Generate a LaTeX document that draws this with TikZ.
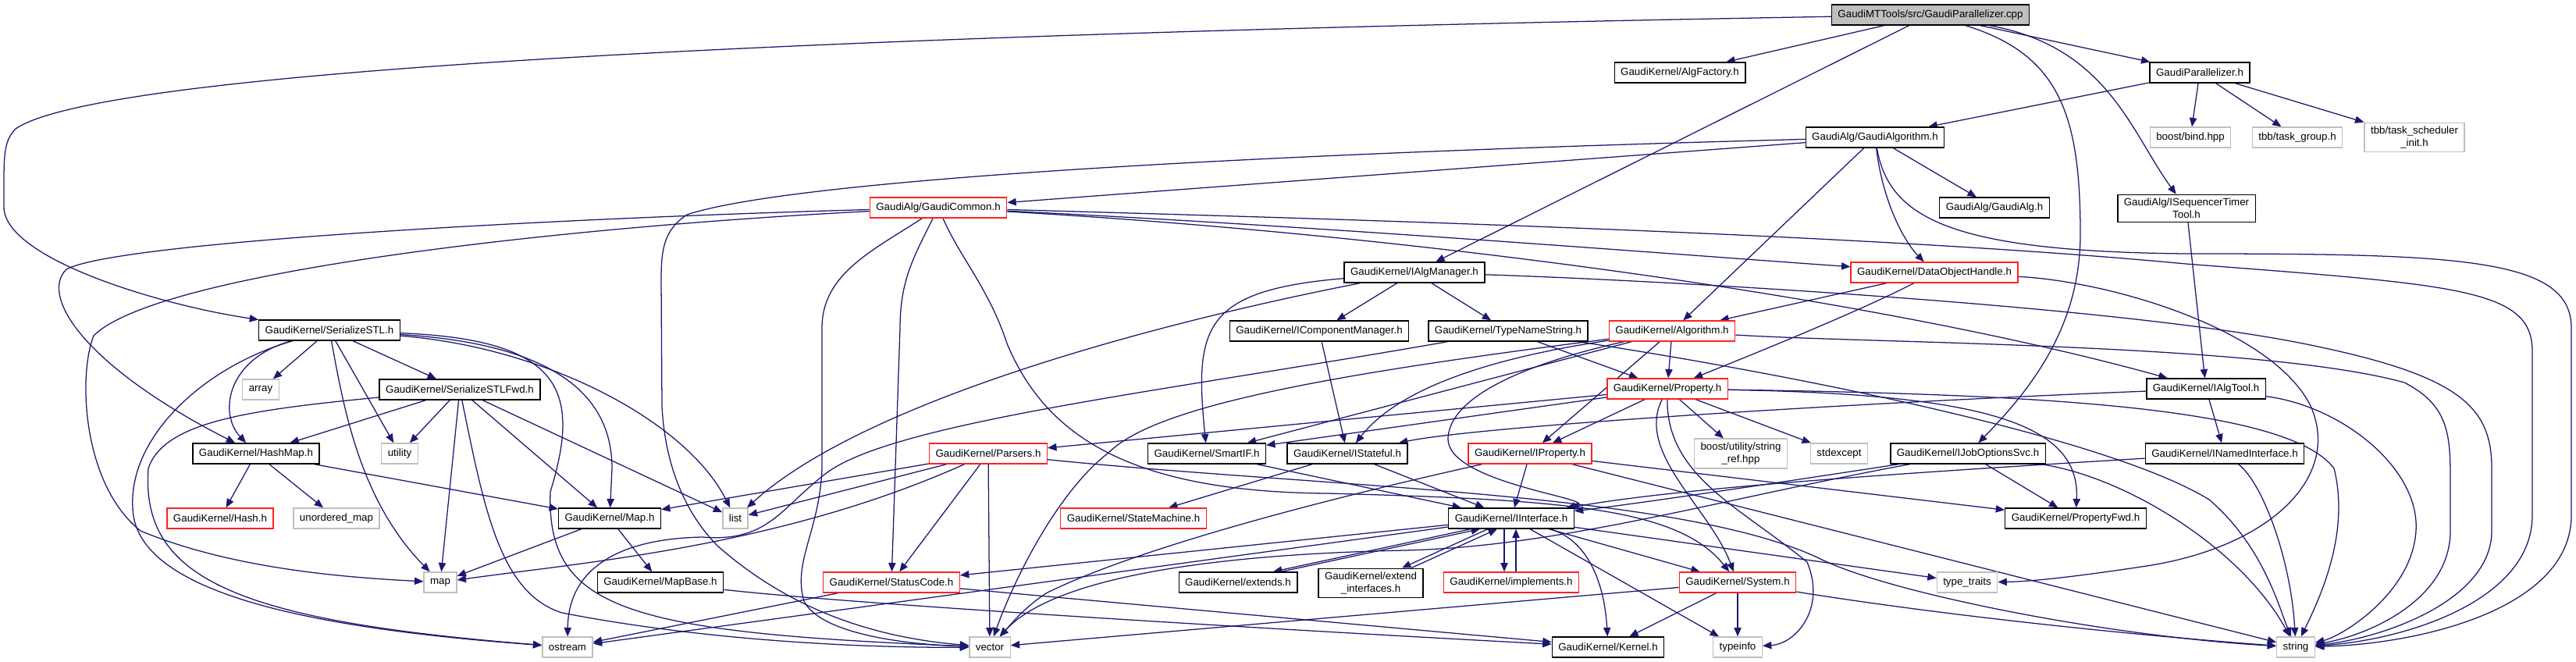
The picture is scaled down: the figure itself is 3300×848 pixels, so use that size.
\documentclass[tikz,border=0pt]{standalone}
\usepackage{fontspec}
\setmainfont{Liberation Sans}
\usepackage{tikz}
\usetikzlibrary{arrows.meta,calc}
\definecolor{dxEdge}{HTML}{191970}
\definecolor{dxGrey}{HTML}{BFBFBF}
\definecolor{dxRed}{HTML}{FF2020}
\pgfdeclarelayer{back}
\pgfdeclarelayer{edges}
\pgfsetlayers{back,edges,main}
\tikzset{
  hdr/.style={draw=black, fill=white, line width=1pt, inner xsep=6pt, inner ysep=3.5pt,
    minimum height=19.5pt, align=center, font=\fontsize{10}{12}\selectfont},
  hdrcut/.style={hdr, draw=dxRed},
  hdrsys/.style={hdr, draw=dxGrey},
  hdrsrc/.style={hdr, fill=dxGrey},
  dep/.style={draw=dxEdge, line width=0.95pt, -{Triangle[length=8.5pt,width=7pt]}}
}
\begin{document}
\begin{tikzpicture}[x=0.75pt,y=-0.75pt]
  \begin{pgfonlayer}{back}
    \fill[white] (0,0) rectangle (3300,848);
  \end{pgfonlayer}
  \useasboundingbox (0,0) rectangle (3300,848);

  \node[hdrsrc] (root) at (2473,19) {GaudiMTTools/src/GaudiParallelizer.cpp};
  \node[hdr] (algfac) at (2152,93) {GaudiKernel/AlgFactory.h};
  \node[hdr] (gpar) at (2818,93) {GaudiParallelizer.h};
  \node[hdr] (galgo) at (2402,176) {GaudiAlg/GaudiAlgorithm.h};
  \node[hdrsys] (boostbind) at (2806,176) {boost/bind.hpp};
  \node[hdrsys] (tbbtg) at (2943,176) {tbb/task\_group.h};
  \node[hdrsys] (tbbtsi) at (3093,176) {tbb/task\_scheduler\\\_init.h};
  \node[hdrcut] (gcommon) at (1202,266) {GaudiAlg/GaudiCommon.h};
  \node[hdr] (galg) at (2555,266) {GaudiAlg/GaudiAlg.h};
  \node[hdr] (iseqtt) at (2801,267) {GaudiAlg/ISequencerTimer\\Tool.h};
  \node[hdr] (ialgmgr) at (1812,349) {GaudiKernel/IAlgManager.h};
  \node[hdrcut] (dohandle) at (2478,349) {GaudiKernel/DataObjectHandle.h};
  \node[hdr] (serstl) at (422,423) {GaudiKernel/SerializeSTL.h};
  \node[hdr] (icompmgr) at (1690,424) {GaudiKernel/IComponentManager.h};
  \node[hdr] (typename) at (1932,424) {GaudiKernel/TypeNameString.h};
  \node[hdrcut] (algorithm) at (2142,424) {GaudiKernel/Algorithm.h};
  \node[hdrsys] (array) at (334,499) {array};
  \node[hdr] (serstlfwd) at (589,499) {GaudiKernel/SerializeSTLFwd.h};
  \node[hdrcut] (property) at (2136,498) {GaudiKernel/Property.h};
  \node[hdr] (ialgtool) at (2826,498) {GaudiKernel/IAlgTool.h};
  \node[hdr] (hashmap) at (328,581) {GaudiKernel/HashMap.h};
  \node[hdrsys] (utility) at (512,581) {utility};
  \node[hdrcut] (parsers) at (1266,581) {GaudiKernel/Parsers.h};
  \node[hdr] (smartif) at (1546,581) {GaudiKernel/SmartIF.h};
  \node[hdr] (istateful) at (1726,581) {GaudiKernel/IStateful.h};
  \node[hdrcut] (iproperty) at (1960,581) {GaudiKernel/IProperty.h};
  \node[hdrsys] (stringref) at (2230,581) {boost/utility/string\\\_ref.hpp};
  \node[hdrsys] (stdexcept) at (2356,581) {stdexcept};
  \node[hdr] (ijobopt) at (2521,581) {GaudiKernel/IJobOptionsSvc.h};
  \node[hdr] (inamed) at (2850,581) {GaudiKernel/INamedInterface.h};
  \node[hdrcut] (hash) at (282,664) {GaudiKernel/Hash.h};
  \node[hdrsys] (umap) at (431,664) {unordered\_map};
  \node[hdr] (mapkh) at (781,664) {GaudiKernel/Map.h};
  \node[hdrsys] (list) at (942,664) {list};
  \node[hdrcut] (statem) at (1452,664) {GaudiKernel/StateMachine.h};
  \node[hdr] (iinterface) at (1936,664) {GaudiKernel/IInterface.h};
  \node[hdr] (propfwd) at (2659,664) {GaudiKernel/PropertyFwd.h};
  \node[hdrsys] (map) at (564,746) {map};
  \node[hdr] (mapbase) at (846,746) {GaudiKernel/MapBase.h};
  \node[hdrcut] (statuscode) at (1142,746) {GaudiKernel/StatusCode.h};
  \node[hdr] (extends) at (1586,746) {GaudiKernel/extends.h};
  \node[hdr] (extif) at (1756,747) {GaudiKernel/extend\\\_interfaces.h};
  \node[hdrcut] (implements) at (1936,746) {GaudiKernel/implements.h};
  \node[hdrcut] (system) at (2226,746) {GaudiKernel/System.h};
  \node[hdrsys] (typetraits) at (2520,746) {type\_traits};
  \node[hdrsys] (ostream) at (727,829) {ostream};
  \node[hdrsys] (vector) at (1268,829) {vector};
  \node[hdr] (kernel) at (2060,829) {GaudiKernel/Kernel.h};
  \node[hdrsys] (typeinfo) at (2226,829) {typeinfo};
  \node[hdrsys] (string) at (2941,829) {string};

  \begin{pgfonlayer}{edges}
  \draw[dep] (root) .. controls (1400,38) and (150,75) .. (20,165) .. controls (5,180) and (5,200) .. (5,240) -- (5,265) .. controls (5,330) and (200,390) .. (serstl);
  \draw[dep] (root) -- (algfac);
  \draw[dep] (root) -- (ialgmgr);
  \draw[dep] (root) -- (gpar);
  \draw[dep] (root) .. controls (2700,60) and (2730,170) .. (iseqtt);
  \draw[dep] (root) .. controls (2640,70) and (2665,150) .. (2665,300) .. controls (2665,420) and (2600,500) .. (ijobopt);
  \draw[dep] (gpar) -- (galgo);
  \draw[dep] (gpar) -- (boostbind);
  \draw[dep] (gpar) -- (tbbtg);
  \draw[dep] (gpar) -- (tbbtsi);
  \draw[dep] (iseqtt) -- (ialgtool);
  \draw[dep] (galgo) -- (gcommon);
  \draw[dep] (galgo) .. controls (1500,200) and (1000,235) .. (880,275) .. controls (850,295) and (847,320) .. (847,360) -- (848,520) .. controls (852,600) and (880,660) .. (920,700) .. controls (1000,770) and (1100,815) .. (vector);
  \draw[dep] (galgo) -- (algorithm);
  \draw[dep] (galgo) .. controls (2412,260) and (2440,310) .. (dohandle);
  \draw[dep] (galgo) -- (galg);
  \draw[dep] (galgo) .. controls (2420,280) and (2500,322) .. (2800,325) .. controls (3150,325) and (3294,330) .. (3294,420) -- (3294,660) .. controls (3294,780) and (3100,825) .. (string);
  \draw[dep] (gcommon) .. controls (700,280) and (150,310) .. (85,345) .. controls (50,380) and (110,470) .. (hashmap);
  \draw[dep] (gcommon) .. controls (700,292) and (200,350) .. (120,430) .. controls (100,480) and (105,620) .. (180,680) .. controls (300,730) and (450,740) .. (map);
  \draw[dep] (gcommon) .. controls (1120,320) and (1053,350) .. (1053,420) -- (1053,600) .. controls (1050,680) and (1015,720) .. (1030,770) .. controls (1050,810) and (1150,825) .. (vector);
  \draw[dep] (gcommon) .. controls (1170,330) and (1153,360) .. (1153,420) -- (statuscode);
  \draw[dep] (gcommon) .. controls (1230,330) and (1267,370) .. (1290,440) .. controls (1340,560) and (1450,630) .. (1700,632) .. controls (2000,640) and (2150,650) .. (system);
  \draw[dep] (gcommon) .. controls (1700,290) and (2200,330) .. (dohandle);
  \draw[dep] (gcommon) .. controls (1800,300) and (2400,380) .. (ialgtool);
  \draw[dep] (gcommon) .. controls (1700,280) and (2400,300) .. (2800,338) .. controls (3150,365) and (3244,370) .. (3244,450) -- (3244,660) .. controls (3244,770) and (3080,820) .. (string);
  \draw[dep] (ialgmgr) -- (icompmgr);
  \draw[dep] (ialgmgr) -- (typename);
  \draw[dep] (ialgmgr) .. controls (1540,372) and (1530,420) .. (smartif);
  \draw[dep] (ialgmgr) .. controls (1450,420) and (1100,520) .. (list);
  \draw[dep] (ialgmgr) .. controls (2100,358) and (2700,390) .. (2950,440) .. controls (3150,480) and (3192,520) .. (3192,600) -- (3192,680) .. controls (3192,770) and (3050,818) .. (string);
  \draw[dep] (icompmgr) -- (istateful);
  \draw[dep] (typename) -- (property);
  \draw[dep] (typename) .. controls (2300,480) and (2700,560) .. (2830,640) .. controls (2900,700) and (2920,780) .. (string);
  \draw[dep] (typename) .. controls (1500,500) and (1150,540) .. (1060,605) .. controls (1000,650) and (985,695) .. (900,688) .. controls (790,690) and (728,730) .. (ostream);
  \draw[dep] (algorithm) -- (property);
  \draw[dep] (algorithm) -- (iproperty);
  \draw[dep] (algorithm) .. controls (1900,460) and (1790,500) .. (istateful);
  \draw[dep] (algorithm) -- (smartif);
  \draw[dep] (algorithm) .. controls (1700,480) and (1480,520) .. (1420,580) .. controls (1355,630) and (1300,740) .. (vector);
  \draw[dep] (algorithm) .. controls (2400,440) and (2900,440) .. (3080,490) .. controls (3139,520) and (3139,560) .. (3139,620) -- (3139,680) .. controls (3139,770) and (3030,815) .. (string);
  \draw[dep] (algorithm) .. controls (1980,460) and (1860,500) .. (1855,560) .. controls (1850,620) and (2060,640) .. (iinterface);
  \draw[dep] (dohandle) -- (algorithm);
  \draw[dep] (dohandle) .. controls (2380,400) and (2230,460) .. (property);
  \draw[dep] (dohandle) .. controls (2700,360) and (2910,420) .. (2960,520) .. controls (3000,610) and (2910,700) .. (2750,725) .. controls (2650,740) and (2600,745) .. (typetraits);
  \draw[dep] (property) -- (parsers);
  \draw[dep] (property) -- (smartif);
  \draw[dep] (property) -- (iproperty);
  \draw[dep] (property) -- (stringref);
  \draw[dep] (property) -- (stdexcept);
  \draw[dep] (property) .. controls (2550,505) and (2665,545) .. (propfwd);
  \draw[dep] (property) .. controls (2600,505) and (2930,520) .. (2990,600) .. controls (3010,680) and (2975,760) .. (string);
  \draw[dep] (property) .. controls (2095,580) and (2190,650) .. (system);
  \draw[dep] (property) .. controls (2135,610) and (2230,650) .. (2315,720) .. controls (2340,780) and (2300,825) .. (typeinfo);
  \draw[dep] (ialgtool) -- (inamed);
  \draw[dep] (ialgtool) .. controls (2400,515) and (1900,545) .. (istateful);
  \draw[dep] (ialgtool) .. controls (3000,520) and (3100,600) .. (3095,680) .. controls (3090,760) and (3000,815) .. (string);
  \draw[dep] (inamed) .. controls (2450,605) and (2150,625) .. (iinterface);
  \draw[dep] (inamed) .. controls (2900,620) and (2935,720) .. (string);
  \draw[dep] (ijobopt) -- (propfwd);
  \draw[dep] (ijobopt) .. controls (2300,615) and (2100,645) .. (iinterface);
  \draw[dep] (ijobopt) .. controls (2200,640) and (2000,700) .. (1800,705) .. controls (1550,710) and (1350,740) .. (vector);
  \draw[dep] (ijobopt) .. controls (2720,610) and (2870,700) .. (string);
  \draw[dep] (iproperty) -- (iinterface);
  \draw[dep] (iproperty) .. controls (1650,650) and (1440,710) .. (1340,760) .. controls (1310,780) and (1295,800) .. (vector);
  \draw[dep] (iproperty) -- (propfwd);
  \draw[dep] (iproperty) -- (string);
  \draw[dep] (istateful) -- (iinterface);
  \draw[dep] (istateful) -- (statem);
  \draw[dep] (smartif) -- (iinterface);
  \draw[dep] ($(iinterface.south)+(-52,0)$) -- ($(extends.north)+(45,0)$);
  \draw[dep] ($(extends.north)+(55,0)$) -- ($(iinterface.south)+(-40,0)$);
  \draw[dep] ($(iinterface.south)+(-30,0)$) -- ($(extif.north)+(40,0)$);
  \draw[dep] ($(extif.north)+(52,0)$) -- ($(iinterface.south)+(-18,0)$);
  \draw[dep] ($(iinterface.south)+(-9,0)$) -- ($(implements.north)+(-9,0)$);
  \draw[dep] ($(implements.north)+(6,0)$) -- ($(iinterface.south)+(6,0)$);
  \draw[dep] (iinterface) -- (statuscode);
  \draw[dep] (iinterface) -- (ostream);
  \draw[dep] (iinterface) .. controls (2030,690) and (2055,740) .. (kernel);
  \draw[dep] (iinterface) -- (system);
  \draw[dep] (iinterface) -- (typetraits);
  \draw[dep] (iinterface) -- (typeinfo);
  \draw[dep] (system) -- (kernel);
  \draw[dep] (system) -- (typeinfo);
  \draw[dep] (system) .. controls (2500,790) and (2750,815) .. (string);
  \draw[dep] (system) -- (vector);
  \draw[dep] (statuscode) -- (ostream);
  \draw[dep] (statuscode) -- (kernel);
  \draw[dep] (mapbase) .. controls (1100,775) and (1700,810) .. (kernel);
  \draw[dep] (mapkh) -- (map);
  \draw[dep] (mapkh) -- (mapbase);
  \draw[dep] (hashmap) -- (hash);
  \draw[dep] (hashmap) -- (umap);
  \draw[dep] (hashmap) -- (mapkh);
  \draw[dep] (parsers) -- (mapkh);
  \draw[dep] (parsers) -- (list);
  \draw[dep] (parsers) .. controls (1000,700) and (750,720) .. (map);
  \draw[dep] (parsers) -- (statuscode);
  \draw[dep] (parsers) -- (vector);
  \draw[dep] (parsers) .. controls (1700,625) and (2150,630) .. (2330,715) .. controls (2420,760) and (2700,815) .. (string);
  \draw[dep] (serstl) .. controls (260,470) and (165,560) .. (170,650) .. controls (172,760) and (400,805) .. (ostream);
  \draw[dep] (serstl) .. controls (290,460) and (280,530) .. (hashmap);
  \draw[dep] (serstl) -- (array);
  \draw[dep] (serstl) .. controls (440,520) and (460,640) .. (map);
  \draw[dep] (serstl) -- (utility);
  \draw[dep] (serstl) -- (serstlfwd);
  \draw[dep] (serstl) .. controls (700,445) and (880,540) .. (list);
  \draw[dep] (serstl) .. controls (700,440) and (784,500) .. (784,600) -- (mapkh);
  \draw[dep] (serstl) .. controls (720,435) and (745,500) .. (705,630) .. controls (700,780) and (800,810) .. (vector);
  \draw[dep] (serstlfwd) .. controls (320,525) and (210,540) .. (190,600) .. controls (180,740) and (300,795) .. (ostream);
  \draw[dep] (serstlfwd) -- (hashmap);
  \draw[dep] (serstlfwd) -- (utility);
  \draw[dep] (serstlfwd) -- (map);
  \draw[dep] (serstlfwd) .. controls (620,650) and (640,760) .. (720,785) .. controls (900,820) and (1100,830) .. (vector);
  \draw[dep] (serstlfwd) -- (mapkh);
  \draw[dep] (serstlfwd) -- (list);
  \end{pgfonlayer}
\end{tikzpicture}
\end{document}
